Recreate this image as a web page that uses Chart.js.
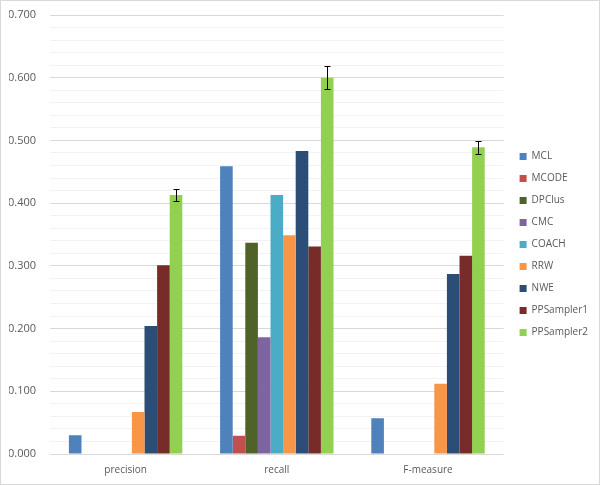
<!DOCTYPE html>
<html>
<head>
<meta charset="utf-8">
<script src="https://cdn.jsdelivr.net/npm/chart.js@4"></script>
<style>
  body { margin: 0; background: #fff; }
  #wrap { width: 598px; height: 483px; border: 1px solid #d9d9d9; }
</style>
</head>
<body>
<div id="wrap"><canvas id="chart" width="598" height="483"></canvas></div>
<script>
const categories = ['precision', 'recall', 'F-measure'];
const methods = ['MCL', 'MCODE', 'DPClus', 'CMC', 'COACH', 'RRW', 'NWE', 'PPSampler1', 'PPSampler2'];
const colors = ['#4F81BD', '#C0504D', '#4F6228', '#8064A2', '#4BACC6', '#F79646', '#2C4D75', '#772C2A', '#92D050'];

const mcl = [0.030, 0.459, 0.057];
const mcode = [0, 0.029, 0];
const dpclus = [0, 0.337, 0];
const cmc = [0, 0.186, 0];
const coach = [0, 0.413, 0];
const rrw = [0.067, 0.349, 0.112];
const nwe = [0.204, 0.483, 0.287];
const ppsampler1 = [0.301, 0.331, 0.316];
const ppsampler2 = [0.413, 0.600, 0.489];
const ppsampler2Err = [0.010, 0.018, 0.010];

const values = [mcl, mcode, dpclus, cmc, coach, rrw, nwe, ppsampler1, ppsampler2];

// error bars on the last series
const errorBars = {
    id: 'errorBars',
    afterDatasetsDraw(chart) {
        const ctx = chart.ctx;
        const yScale = chart.scales.y;
        const meta = chart.getDatasetMeta(8);
        ctx.save();
        ctx.strokeStyle = '#000';
        ctx.lineWidth = 1;
        meta.data.forEach((bar, i) => {
            const v = ppsampler2[i];
            const e = ppsampler2Err[i];
            const x = Math.round(bar.x) + 0.5;
            const top = Math.round(yScale.getPixelForValue(v + e)) + 0.5;
            const bottom = Math.round(yScale.getPixelForValue(v - e)) + 0.5;
            ctx.beginPath();
            ctx.moveTo(x, top);
            ctx.lineTo(x, bottom);
            ctx.moveTo(x - 3, top);
            ctx.lineTo(x + 3, top);
            ctx.moveTo(x - 3, bottom);
            ctx.lineTo(x + 3, bottom);
            ctx.stroke();
        });
        ctx.restore();
    }
};

// push the legend a little away from the plot
const legendShift = {
    id: 'legendShift',
    afterLayout(chart) {
        const lg = chart.legend;
        lg.left += 4;
        lg.right += 4;
        lg.top += 5;
        lg.bottom += 5;
    }
};

const ctx = document.getElementById('chart').getContext('2d');
new Chart(ctx, {
    type: 'bar',
    data: {
        labels: categories,
        datasets: methods.map((m, i) => ({
            label: m,
            data: values[i],
            backgroundColor: colors[i],
            categoryPercentage: 0.75,
            barPercentage: 1
        }))
    },
    options: {
        responsive: false,
        animation: false,
        layout: { padding: { left: 8, top: 0, right: 5, bottom: 6 } },
        plugins: {
            tooltip: { enabled: false },
            legend: {
                position: 'right',
                labels: {
                    font: { family: 'Open Sans', size: 10 },
                    color: '#595959',
                    boxWidth: 7,
                    boxHeight: 7,
                    padding: 12
                }
            }
        },
        scales: {
            x: {
                grid: { display: false },
                border: { display: false },
                ticks: { font: { family: 'Open Sans', size: 10 }, color: '#595959', padding: 2 },
                afterFit: axis => { axis.height = 24; }
            },
            y: {
                min: 0,
                max: 0.7,
                border: { display: false },
                grid: {
                    drawTicks: false,
                    color: c => (Math.round(c.tick.value * 100) % 10 === 0 ? '#d9d9d9' : '#f2f2f2')
                },
                ticks: {
                    stepSize: 0.02,
                    autoSkip: false,
                    padding: 14,
                    font: { family: 'Open Sans', size: 11 },
                    color: '#595959',
                    callback: v => (Math.round(v * 100) % 10 === 0 ? v.toFixed(3) : '')
                },
                afterFit: axis => {
                    axis.width = 41;
                    axis.paddingTop = 14;
                }
            }
        }
    },
    plugins: [errorBars, legendShift]
});
</script>
</body>
</html>
